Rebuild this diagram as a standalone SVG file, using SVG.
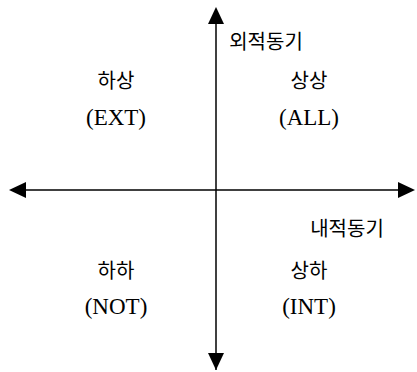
<svg xmlns="http://www.w3.org/2000/svg" width="417" height="372" viewBox="0 0 417 372">
<style>
.t{font-family:"Liberation Serif","Noto Sans CJK KR",serif;font-size:20px;fill:#000;text-anchor:middle}
.l{font-family:"Liberation Serif",serif;font-size:23px;fill:#000;text-anchor:middle}
.ax{stroke:#000;stroke-width:1.5;fill:none}
</style>
<g id="connectors">
<path class="ax" d="M216,370 L216,24"/>
<path d="M216,7 L224,24 L208,24 Z" fill="#000"/>
<path d="M216,370 L224,353 L208,353 Z" fill="#000"/>
<path class="ax" d="M26,190 L398,190"/>
<path d="M9,190 L26,182 L26,198 Z" fill="#000"/>
<path d="M415,190 L398,182 L398,198 Z" fill="#000"/>
</g>
<g id="label-ext-axis"><text class="t" x="266" y="49">외적동기</text></g>
<g id="label-int-axis"><text class="t" x="347" y="236">내적동기</text></g>
<g id="q-ext"><text class="t" x="116" y="88">하상</text><text class="l" x="116" y="125">(EXT)</text></g>
<g id="q-all"><text class="t" x="309" y="88">상상</text><text class="l" x="309" y="125">(ALL)</text></g>
<g id="q-not"><text class="t" x="116" y="278">하하</text><text class="l" x="116" y="314">(NOT)</text></g>
<g id="q-int"><text class="t" x="309" y="278">상하</text><text class="l" x="309" y="314">(INT)</text></g>
</svg>
